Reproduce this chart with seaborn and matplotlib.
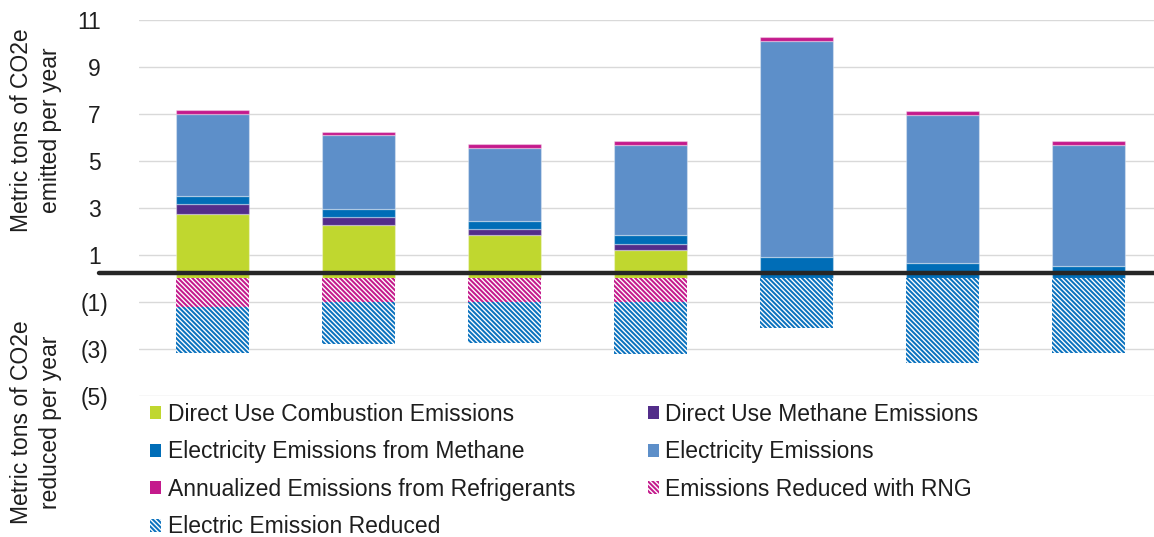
import numpy as np
import pandas as pd
import matplotlib
matplotlib.use("Agg")
import matplotlib.pyplot as plt
from matplotlib.patches import Patch
from matplotlib.transforms import ScaledTranslation
import seaborn as sns

# ---- data (metric tons CO2e per year) ----
scenarios = ["S1", "S2", "S3", "S4", "S5", "S6", "S7"]
combustion = [2.72, 2.26, 1.83, 1.19, 0.0, 0.0, 0.0]
direct_methane = [0.43, 0.35, 0.28, 0.27, 0.0, 0.0, 0.0]
elec_methane = [0.36, 0.33, 0.33, 0.37, 0.91, 0.64, 0.53]
electricity = [3.50, 3.15, 3.12, 3.84, 9.20, 6.32, 5.16]
refrigerants = [0.17, 0.14, 0.14, 0.16, 0.17, 0.17, 0.17]
rng_reduced = [-1.22, -1.01, -1.01, -1.01, 0.0, 0.0, 0.0]
elec_reduced = [-1.98, -1.78, -1.77, -2.21, -2.12, -3.62, -3.17]

y_ticks = [-5, -3, -1, 1, 3, 5, 7, 9, 11]

labels = {
    "combustion": "Direct Use Combustion Emissions",
    "direct_methane": "Direct Use Methane Emissions",
    "elec_methane": "Electricity Emissions from Methane",
    "electricity": "Electricity Emissions",
    "refrigerants": "Annualized Emissions from Refrigerants",
    "rng_reduced": "Emissions Reduced with RNG",
    "elec_reduced": "Electric Emission Reduced",
}
colors = {
    "combustion": "#C0D72F",
    "direct_methane": "#532D8A",
    "elec_methane": "#006DB7",
    "electricity": "#5D8FC9",
    "refrigerants": "#C41A8C",
    "rng_reduced": "#C41A8C",
    "elec_reduced": "#0B72BE",
}
HATCH = "\\" * 7  # dense diagonal stripes

sns.set_theme(style="white")
plt.rcParams["font.family"] = ["Liberation Sans", "DejaVu Sans"]
plt.rcParams["hatch.linewidth"] = 1.45
TEXT = "#1E1E1E"
FS = 16.5

W, H = 1154, 537
fig = plt.figure(figsize=(W / 100, H / 100), dpi=100)
ax = fig.add_axes([139.3 / W, 1 - 395.5 / H, 1021.7 / W, 375.5 / H])

df = pd.DataFrame({"scenario": scenarios})

# positive stack
bottom = np.zeros(len(scenarios))
for key, vals in [("combustion", combustion), ("direct_methane", direct_methane),
                  ("elec_methane", elec_methane), ("electricity", electricity),
                  ("refrigerants", refrigerants)]:
    d = df.assign(v=vals)
    sns.barplot(data=d, x="scenario", y="v", order=scenarios, color=colors[key],
                saturation=1, width=0.5, bottom=bottom, ax=ax, errorbar=None,
                linewidth=0.9, edgecolor=(1, 1, 1, 0.35), zorder=2)
    bottom = bottom + np.array(vals)

# negative (reduction) stack, hatched
bottom = np.zeros(len(scenarios))
for key, vals in [("rng_reduced", rng_reduced), ("elec_reduced", elec_reduced)]:
    d = df.assign(v=vals)
    sns.barplot(data=d, x="scenario", y="v", order=scenarios, color="white",
                saturation=1, width=0.5, bottom=bottom, ax=ax, errorbar=None,
                linewidth=0, edgecolor=colors[key], hatch=HATCH, zorder=2)
    bottom = bottom + np.array(vals)

for p in ax.patches:
    if abs(p.get_height()) < 1e-9:
        p.set_visible(False)

ax.set_xlim(-0.5, 6.5)
ax.set_ylim(-5, 11)
ax.set_xlabel("")
ax.set_ylabel("")
ax.set_xticks([])
ax.set_yticks(y_ticks)
ax.set_yticklabels([f"({abs(t)})" if t < 0 else f"{t}" for t in y_ticks])
ax.tick_params(axis="y", length=0, pad=22, labelsize=FS, labelcolor=TEXT)
for t, lab in zip(y_ticks, ax.get_yticklabels()):
    if t > 0:
        lab.set_transform(lab.get_transform() + ScaledTranslation(-8 / 100, 0, fig.dpi_scale_trans))
ax.grid(axis="y", color="#D9D9D9", linewidth=1.0, zorder=0)
ax.set_axisbelow(True)
for s in ax.spines.values():
    s.set_visible(False)

# baseline separating emitted and reduced
ax.axhline(0.2, xmin=-40 / 1021.7, xmax=1, color="#262626", linewidth=3.2,
           clip_on=False, zorder=5)

fig.text(36 / W, 1 - 130 / H, "Metric tons of CO2e\nemitted per year", rotation=90,
         ha="center", va="center", multialignment="center", fontsize=FS,
         color=TEXT, linespacing=1.3)
fig.text(36 / W, 1 - 422 / H, "Metric tons of CO2e\nreduced per year", rotation=90,
         ha="center", va="center", multialignment="center", fontsize=FS,
         color=TEXT, linespacing=1.3)

order = ["combustion", "elec_methane", "refrigerants", "elec_reduced",
         "direct_methane", "electricity", "rng_reduced"]
handles = []
for key in order:
    if key in ("rng_reduced", "elec_reduced"):
        handles.append(Patch(facecolor="white", edgecolor=colors[key], linewidth=0,
                             hatch=HATCH, label=labels[key]))
    else:
        handles.append(Patch(facecolor=colors[key], edgecolor="none", label=labels[key]))

fig.legend(handles=handles, loc="upper left", bbox_to_anchor=(150 / W, 1 - 403 / H),
           ncol=2, frameon=False, fontsize=FS, handlelength=0.5, handleheight=0.5,
           handletextpad=0.28, labelspacing=0.63, columnspacing=3.15,
           borderpad=0, borderaxespad=0, labelcolor=TEXT)

fig.savefig("out.png", dpi=100)
